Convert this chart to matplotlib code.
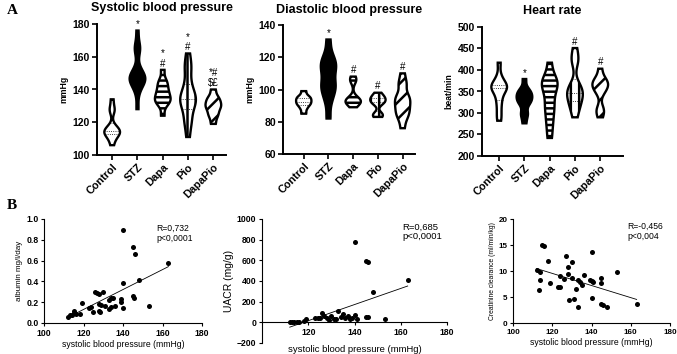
import matplotlib.pyplot as plt
import numpy as np
from matplotlib import cbook, mlab
from matplotlib.patches import PathPatch

plt.rcParams['font.family'] = ['Liberation Sans', 'DejaVu Sans']
plt.rcParams['hatch.linewidth'] = 1.8

groups = ['Control', 'STZ', 'Dapa', 'Pio', 'DapaPio']

# panel A - estimated individual values per group
sbp = [
    [106, 110, 112, 113, 114, 114, 115, 116, 117, 127, 128, 134],
    [128, 138, 142, 144, 145, 146, 146, 147, 148, 149, 150, 153, 163, 165, 167, 176],
    [124, 130, 132, 133, 134, 135, 137, 138, 140, 142, 144, 146, 152],
    [111, 119, 121, 126, 130, 132, 133, 134, 136, 138, 141, 146, 153, 155, 162],
    [119, 123, 125, 127, 129, 130, 131, 133, 134, 136, 140],
]
dbp = [
    [85, 88, 90, 91, 92, 93, 94, 95, 96, 99],
    [82, 92, 97, 100, 102, 104, 108, 112, 114, 116, 118, 122, 131],
    [89, 91, 92, 92, 93, 93, 94, 95, 105, 106, 108],
    [83, 84, 85, 91, 92, 93, 94, 95, 96, 98],
    [76, 82, 84, 86, 88, 90, 92, 94, 95, 97, 103, 104, 110],
]
hr = [
    [282, 300, 320, 335, 350, 355, 360, 362, 365, 370, 385, 417],
    [276, 295, 300, 320, 325, 330, 335, 340, 345, 350, 355, 379],
    [242, 270, 290, 310, 320, 340, 355, 365, 370, 375, 385, 417],
    [290, 310, 320, 330, 340, 345, 350, 360, 365, 420, 425, 451],
    [290, 305, 310, 345, 355, 360, 365, 370, 375, 380, 403],
]
sbp_marks = ['', '*', '*\n#', '*\n#', '*#\n$£']
dbp_marks = ['', '*', '#', '#', '#']
hr_marks = ['', '*', '', '#', '#']

# panel B - estimated points
alb_x = [140, 145, 146, 163, 148, 140, 145, 145.5, 153, 140, 139, 139, 135, 134, 133, 136,
         134, 133, 131, 130, 128, 129, 127, 126, 128, 128, 128.5, 124, 125, 123, 119, 118,
         115, 115, 114, 113, 112, 116]
alb_y = [0.89, 0.73, 0.66, 0.58, 0.41, 0.38, 0.26, 0.24, 0.16, 0.14, 0.23, 0.20, 0.24, 0.24,
         0.22, 0.16, 0.15, 0.13, 0.16, 0.30, 0.18, 0.17, 0.29, 0.30, 0.28, 0.12, 0.11, 0.15,
         0.11, 0.14, 0.19, 0.09, 0.12, 0.10, 0.08, 0.08, 0.06, 0.09]
uacr_x = [140, 145, 146, 163, 148, 153, 145, 146, 140, 139, 141, 135, 134, 133, 132, 130,
          128, 127, 126, 125, 124, 123, 119, 118, 116, 115, 114, 113, 112, 129, 131, 136,
          137, 138]
uacr_y = [780, 595, 580, 410, 295, 30, 50, 55, 70, 40, 30, 80, 50, 110, 30, 60, 40, 60, 90,
          40, 45, 40, 30, 10, 5, 5, 5, 5, 5, 20, 30, 40, 60, 30]
crcl_x = [115, 116, 112, 114, 113, 114, 118, 119, 123, 124, 124, 126, 127, 128, 128, 130,
          130, 128.5, 131, 132, 133, 133, 134, 135, 136, 139, 140, 140, 141, 140, 145, 145,
          145, 146, 148, 153, 163]
crcl_y = [15.0, 14.8, 10.1, 9.8, 6.3, 8.3, 11.9, 7.7, 7.0, 7.0, 9.0, 8.5, 12.9, 10.8, 9.5,
          11.8, 8.6, 4.4, 4.7, 6.6, 8.2, 3.1, 7.8, 7.4, 9.3, 8.3, 13.6, 8.0, 7.9, 4.8, 8.7,
          7.6, 3.7, 3.5, 3.0, 9.8, 3.7]

W, H = 677, 354
fig = plt.figure(figsize=(W / 100, H / 100), dpi=100)


def px_axes(l, t, r, b):
    return fig.add_axes([l / W, 1 - b / H, (r - l) / W, (b - t) / H])


def kde(X, coords):
    return mlab.GaussianKDE(X, 0.35).evaluate(coords)


styles = [
    dict(fc='white', hatch=None, q=True),
    dict(fc='black', hatch=None, q=False),
    dict(fc='white', hatch='---', q=False),
    dict(fc='white', hatch='||', q=True),
    dict(fc='white', hatch='//', q=False),
]


def violin_panel(ax, data, marks, ylim, step, ylabel, title, xlim):
    stats = cbook.violin_stats(data, kde, points=200)
    wid = 0.62
    parts = ax.violin(stats, positions=range(5), widths=wid, showextrema=False)
    for i, body in enumerate(parts['bodies']):
        st = styles[i]
        body.set_visible(False)
        patch = PathPatch(body.get_paths()[0], facecolor=st['fc'], edgecolor='black',
                          lw=1.7, hatch=st['hatch'], zorder=2)
        ax.add_patch(patch)
        if st['q']:
            s = stats[i]
            half = s['vals'] / s['vals'].max() * wid / 2
            for q in np.percentile(data[i], [25, 50, 75]):
                w = np.interp(q, s['coords'], half)
                ax.plot([i - w, i + w], [q, q], ls=':', color='black', lw=0.6, zorder=3)
        off = (ylim[1] - ylim[0]) * 0.01
        ax.text(i, max(data[i]) + off, marks[i], ha='center', va='bottom',
                fontsize=7, linespacing=1.0)
    ax.set_xlim(*xlim)
    ax.set_ylim(*ylim)
    ax.set_yticks(np.arange(ylim[0], ylim[1] + 1, step))
    ax.set_xticks(range(5))
    ax.set_xticklabels(groups, rotation=45, ha='right', rotation_mode='anchor',
                       fontsize=7.8, fontweight='bold')
    for lab in ax.get_yticklabels():
        lab.set_fontweight('bold')
        lab.set_fontsize(7.5)
    ax.set_ylabel(ylabel, fontsize=6.2, fontweight='bold', labelpad=3)
    ax.set_title(title, fontsize=9, fontweight='bold', pad=9)
    for sp in ['top', 'right']:
        ax.spines[sp].set_visible(False)
    for sp in ['left', 'bottom']:
        ax.spines[sp].set_linewidth(1.4)
    ax.tick_params(width=1.2, length=3.5, pad=1.5)


a1 = px_axes(97, 24, 226, 155)
violin_panel(a1, sbp, sbp_marks, (100, 180), 20, 'mmHg', 'Systolic blood pressure', (-0.6, 4.5))
a2 = px_axes(283, 25, 415, 154)
violin_panel(a2, dbp, dbp_marks, (60, 140), 20, 'mmHg', 'Diastolic blood pressure', (-0.84, 4.5))
a3 = px_axes(482, 27, 623, 156)
violin_panel(a3, hr, hr_marks, (200, 500), 50, 'beat/min', 'Heart rate', (-0.68, 4.9))


def scatter_panel(ax, x, y, ylim, step, ylabel, rtext, fs, lfs, ylfs, rpos):
    ax.scatter(x, y, s=13, color='black', zorder=3, linewidths=0)
    k, c = np.polyfit(x, y, 1)
    xs = np.array([min(x), max(x)])
    ax.plot(xs, k * xs + c, color='black', lw=0.6)
    ax.set_xlim(100, 180)
    ax.set_ylim(*ylim)
    ax.set_yticks(np.arange(ylim[0], ylim[1] + step / 2, step))
    ax.set_xticks([100, 120, 140, 160, 180])
    for lab in ax.get_xticklabels() + ax.get_yticklabels():
        lab.set_fontweight('bold')
        lab.set_fontsize(fs)
    ax.set_xlabel('systolic blood pressure (mmHg)', fontsize=lfs, labelpad=2)
    ax.set_ylabel(ylabel, fontsize=ylfs, labelpad=2)
    ax.text(rpos[0], rpos[1], rtext, transform=ax.transAxes, ha='left', va='top',
            fontsize=lfs, linespacing=1.1)
    for sp in ['top', 'right']:
        ax.spines[sp].set_visible(False)
    ax.tick_params(width=0.8, length=2.5, pad=1.5)


b1 = px_axes(44, 219, 202, 323)
scatter_panel(b1, alb_x, alb_y, (0, 1.0), 0.2, 'albumin mg/l/day', 'R=0,732\np<0,0001',
              6.2, 6.2, 5.8, (0.71, 0.95))
b1.set_yticklabels(['0.0', '0.2', '0.4', '0.6', '0.8', '1.0'], fontweight='bold', fontsize=6.2)

b2 = px_axes(262, 219, 447, 343)
scatter_panel(b2, uacr_x, uacr_y, (-200, 1000), 200, 'UACR (mg/g)', 'R=0,685\np<0,0001',
              6.2, 6.8, 7.5, (0.76, 0.97))
b2.spines['bottom'].set_position(('data', 0))
b2.set_xticks([120, 140, 160, 180])
for lab in b2.get_xticklabels():
    lab.set_fontweight('bold')
    lab.set_fontsize(6.2)
b2.xaxis.set_label_coords(0.5, -0.015)

b3 = px_axes(513, 219, 670, 323)
scatter_panel(b3, crcl_x, crcl_y, (0, 20), 5, 'Creatinine clearance (ml/min/kg)',
              'R=-0,456\np<0,004', 5.8, 6.2, 4.9, (0.73, 0.97))

fig.text(12 / W, 1 - 11 / H, 'A', fontsize=11, fontweight='bold', family='Liberation Serif',
         ha='center', va='center')
fig.text(12 / W, 1 - 205 / H, 'B', fontsize=11, fontweight='bold', family='Liberation Serif',
         ha='center', va='center')

fig.savefig('out.png', dpi=100)
